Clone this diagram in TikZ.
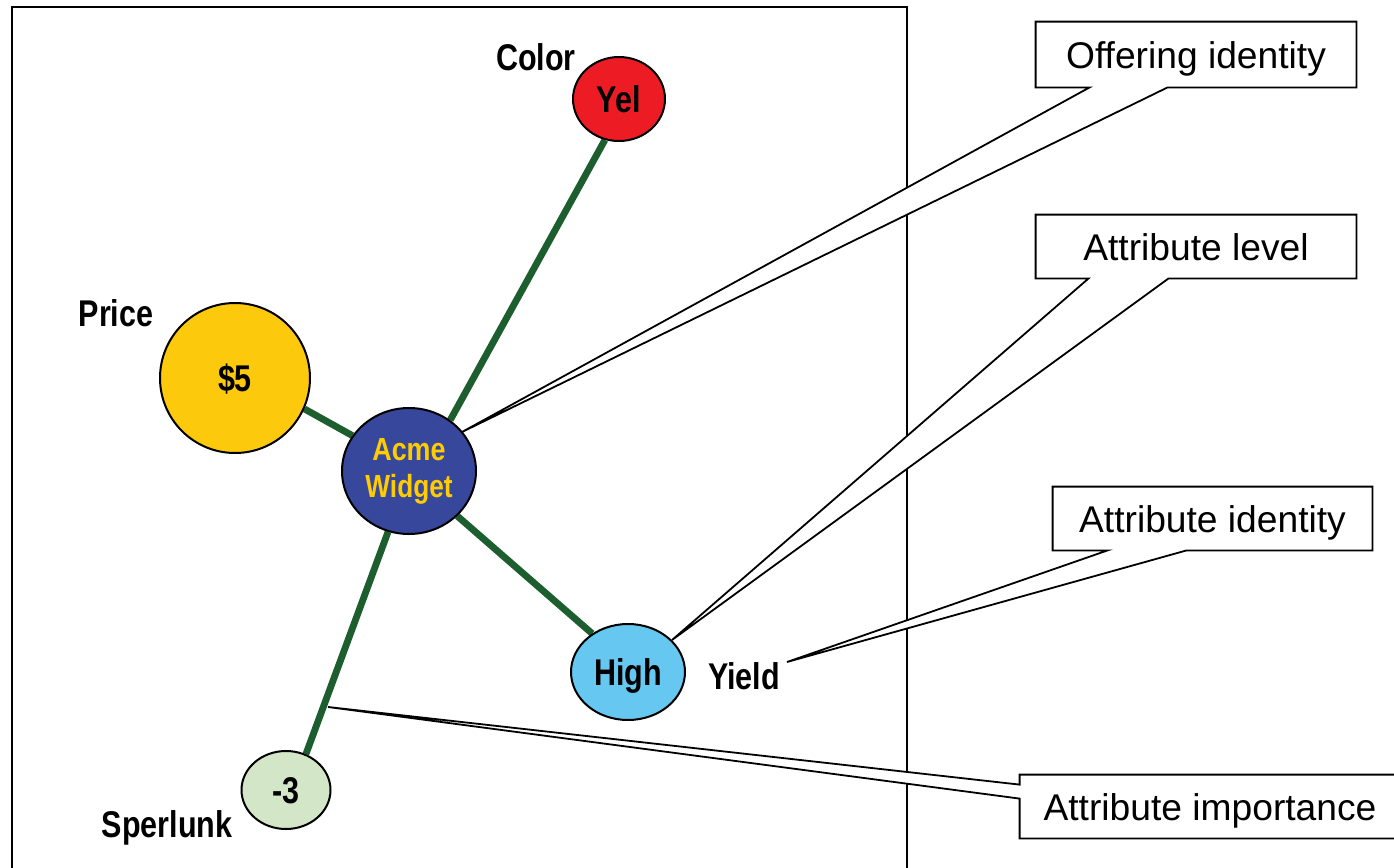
\documentclass[tikz,border=0pt]{standalone}
\usepackage{fontspec}
\setmainfont{Liberation Sans}
\newfontfamily\narrowsans[FakeStretch=0.82]{Liberation Sans}
\usetikzlibrary{shapes.geometric,calc}
\pgfdeclarelayer{back}
\pgfdeclarelayer{mid}
\pgfsetlayers{back,mid,main}
\definecolor{yelred}{HTML}{ED1C24}
\definecolor{pricegold}{HTML}{FDC90C}
\definecolor{acmeblue}{HTML}{37479B}
\definecolor{acmetext}{HTML}{FFCC00}
\definecolor{highblue}{HTML}{66C7F1}
\definecolor{neggreen}{HTML}{D3E6C7}
\definecolor{edgegreen}{HTML}{1D5E2F}
\begin{document}
\begin{tikzpicture}[x=0.5pt,y=-0.5pt,
  blob/.style={ellipse,draw=black,line width=1pt,inner sep=0pt,
    font=\narrowsans\bfseries\fontsize{18.6}{22}\selectfont},
  capc/.style={text height=13.3pt,text depth=0pt},
  tag/.style={font=\narrowsans\bfseries\fontsize{18.6}{22}\selectfont,anchor=base,inner sep=0pt},
  link/.style={edgegreen,line width=3.4pt},
  calltext/.style={font=\fontsize{18.6}{22}\selectfont,inner sep=0pt,text height=14pt,text depth=0pt},
  callout/.style={draw=black,fill=white,line width=0.9pt,line join=miter}
]
\clip (0,0) rectangle (1394,868);
\begin{pgfonlayer}{back}
  \fill[white] (0,0) rectangle (1394,868);
  \draw[line width=1.1pt] (12,7) rectangle (907,920);
\end{pgfonlayer}

% attribute nodes
\node[blob,capc,fill=yelred,minimum width=46pt,minimum height=42pt] (yel) at (619,99) {Yel};
\node[blob,capc,fill=pricegold,minimum width=75pt,minimum height=75pt] (price) at (235,378) {\$5};
\node[blob,fill=acmeblue,text=acmetext,minimum width=67pt,minimum height=63pt,align=center,
  font=\narrowsans\bfseries\fontsize{16}{18.5}\selectfont] (acme) at (409,471) {\addfontfeature{FakeStretch=0.84}Acme\\Widget};
\node[blob,capc,fill=highblue,minimum width=57pt,minimum height=48pt] (high) at (628,672) {High};
\node[blob,capc,fill=neggreen,minimum width=44.5pt,minimum height=39pt] (neg) at (286,790) {-3};

% labels
\node[tag] (lcolor) at (536,70) {Color};
\node[tag] (lprice) at (116,326) {Price};
\node[tag] (lyield) at (744,689) {Yield};
\node[tag] (lsper) at (167,837) {Sperlunk};

% green links
\begin{pgfonlayer}{back}
  \draw[link] (acme.51.6) -- (yel.-109);
  \draw[link] (acme.148.4) -- (price.-24.1);
  \draw[link] (acme.-43.8) -- (high.133.5);
  \draw[link] (acme.-109.3) -- (neg.61);
\end{pgfonlayer}

% callouts
\node[calltext,minimum width=160pt,minimum height=32.5pt] (c1) at (1196,54.5) {Offering identity};
\node[calltext,minimum width=160pt,minimum height=31.5pt] (c2) at (1196,246.5) {Attribute level};
\node[calltext,minimum width=159.5pt,minimum height=31.5pt] (c3) at (1212.5,518.5) {Attribute identity};
\node[calltext,minimum width=190pt,minimum height=31.5pt] (c4) at (1210,806.5) {Attribute importance};

\coordinate (t1) at (462,432);
\coordinate (t2) at (672,640);
\coordinate (t3) at (787,662);
\coordinate (t4) at (328,707);

\begin{pgfonlayer}{mid}
  \draw[callout] (c1.south west) -- ($(c1.south west)+(54,0)$) -- (t1) -- ($(c1.south west)+(132,0)$)
    -- (c1.south east) -- (c1.north east) -- (c1.north west) -- cycle;
  \draw[callout] (c2.south west) -- ($(c2.south west)+(53,0)$) -- (t2) -- ($(c2.south west)+(133,0)$)
    -- (c2.south east) -- (c2.north east) -- (c2.north west) -- cycle;
  \draw[callout] (c3.south west) -- ($(c3.south west)+(55,0)$) -- (t3) -- ($(c3.south west)+(134,0)$)
    -- (c3.south east) -- (c3.north east) -- (c3.north west) -- cycle;
  \draw[callout] (c4.north west) -- (c4.north east) -- (c4.south east) -- (c4.south west)
    -- ($(c4.north west)+(0,24)$) -- (t4) -- ($(c4.north west)+(0,10)$) -- cycle;
\end{pgfonlayer}
\end{tikzpicture}
\end{document}
